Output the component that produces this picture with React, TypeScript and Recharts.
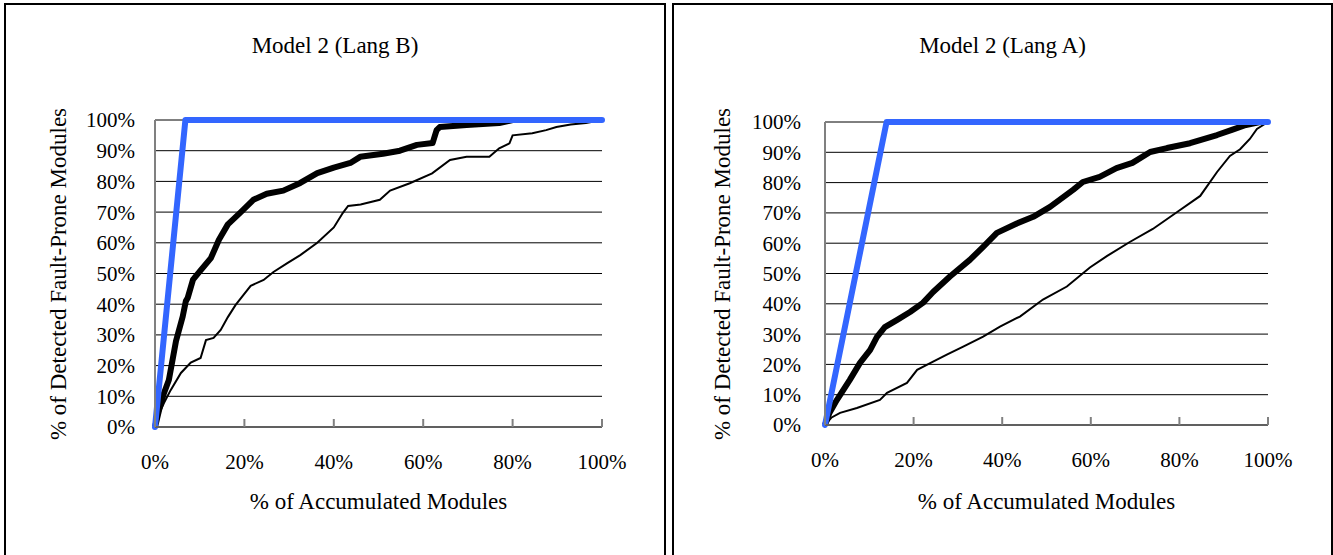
import { LineChart, Line, XAxis, YAxis, CartesianGrid } from "recharts";

const SERIF = '"Liberation Serif", "DejaVu Serif", "Times New Roman", Times, serif';

// tick labels
const xTicks = [0, 20, 40, 60, 80, 100];
const yTicks = [0, 10, 20, 30, 40, 50, 60, 70, 80, 90, 100];

// Lang B — optimal (blue)
const langBOptimalX = [0, 6.8, 100];
const langBOptimalY = [0, 100, 100];

// Lang B — model (thick black)
const langBModelX = [0, 1, 2, 3.1, 4.7, 6.2, 6.9, 7.3, 8.5, 10.2, 12.5, 14.3, 16.3, 19.2, 22, 25, 28.7, 32.5, 36.3, 40, 43.7, 45.9, 51, 54.8, 58.6, 62.1, 63, 63.7, 69.7, 77, 80, 100];
const langBModelY = [0, 6, 11, 15.3, 28, 36, 41, 42, 48, 51, 55, 61, 66, 70, 74, 76, 77, 79.5, 82.7, 84.5, 86, 88, 89, 90, 91.9, 92.5, 96.7, 97.7, 98.4, 99, 100, 100];

// Lang B — random (thin black)
const langBRandomX = [0, 0.8, 2, 3.5, 5.8, 8, 10.2, 11.4, 13.1, 14.7, 16.3, 18, 19.8, 21.4, 24.3, 26.5, 29.6, 32.5, 36.3, 40, 42, 43.2, 46, 50.3, 52.6, 57, 62, 66, 69.7, 74.8, 77, 79.3, 80, 84.4, 87.5, 89.8, 93, 96.4, 100];
const langBRandomY = [0, 4, 7.8, 12, 17.6, 21, 22.5, 28.3, 29, 31.6, 35.8, 39.7, 43, 46, 47.9, 50.5, 53.4, 56, 60, 65, 69.7, 72, 72.5, 74, 77, 79.4, 82.6, 87, 88, 88, 90.8, 92.4, 95, 95.7, 96.7, 97.7, 98.5, 99, 100];

// Lang A — optimal (blue)
const langAOptimalX = [0, 13.9, 100];
const langAOptimalY = [0, 100, 100];

// Lang A — model (thick black)
const langAModelX = [0, 1, 2.7, 5.6, 7.9, 10.2, 11.7, 13.5, 16.3, 19.2, 22.1, 24.4, 28.2, 32.7, 35.7, 38.8, 43.3, 47, 50.8, 56, 58.2, 62, 65.8, 69.4, 73.4, 77.2, 82.4, 88.5, 92, 95, 98.2, 100];
const langAModelY = [0, 4, 8.3, 14.9, 20.5, 24.8, 29, 32.3, 34.7, 37.3, 40.3, 43.9, 49, 54.5, 58.8, 63.4, 66.5, 68.7, 72, 77.6, 80.2, 81.9, 84.8, 86.5, 90.1, 91.4, 93, 95.7, 97.5, 99, 100, 100];

// Lang A — random (thin black)
const langARandomX = [0, 1.5, 3.4, 7.2, 12.4, 14, 18.5, 20.8, 24.4, 27.5, 31.2, 35.7, 39.5, 44, 49.2, 54.6, 59.8, 63.7, 68.8, 74, 79.5, 84.7, 88.5, 91.4, 93.7, 95.9, 97.5, 100];
const langARandomY = [0, 2.5, 4, 5.6, 8.3, 10.6, 13.9, 18.2, 20.9, 23.2, 25.9, 29.2, 32.5, 35.8, 41.4, 45.7, 52, 55.8, 60.4, 64.7, 70.3, 75.6, 83.5, 88.8, 91, 94.4, 97.7, 100];

const zip = (xs: number[], ys: number[]) => xs.map((x, i) => ({ x, y: ys[i] }));

function XTick(props: any) {
  const { x, y, payload } = props;
  return (
    <g>
      <line x1={x} x2={x} y1={y - 8} y2={y} stroke="#808080" strokeWidth={2} />
      <text x={x} y={y + 42} textAnchor="middle" style={{ fontFamily: SERIF }} fontSize={21} fill="#000">
        {payload.value}%
      </text>
    </g>
  );
}

interface PanelProps {
  left: number;
  width: number;
  title: string;
  optimal: { x: number; y: number }[];
  model: { x: number; y: number }[];
  random: { x: number; y: number }[];
  plotLeft: number;
  plotRight: number;
  plotTop: number;
  plotBottom: number;
  yLabelX: number;
  yTickGap: number;
}

function Panel(p: PanelProps) {
  const H = 550;
  const plotCenterX = (p.plotLeft + p.plotRight) / 2;
  const plotCenterY = (p.plotTop + p.plotBottom) / 2;
  return (
    <div
      style={{
        position: "absolute",
        left: p.left,
        top: 3,
        width: p.width,
        height: 560,
        border: "2px solid #000",
        background: "#fff",
        fontFamily: SERIF,
      }}
    >
      <div style={{ position: "absolute", left: 0, top: 29, width: "100%", textAlign: "center", fontSize: 23, lineHeight: "23px" }}>
        {p.title}
      </div>
      <div
        style={{
          position: "absolute",
          left: plotCenterX,
          top: 485,
          transform: "translateX(-50%)",
          whiteSpace: "nowrap",
          fontSize: 23,
          lineHeight: "23px",
        }}
      >
        % of Accumulated Modules
      </div>
      <div
        style={{
          position: "absolute",
          left: p.yLabelX,
          top: plotCenterY,
          transform: "translate(-50%, -50%) rotate(-90deg)",
          whiteSpace: "nowrap",
          fontSize: 23,
          lineHeight: "23px",
        }}
      >
        % of Detected Fault-Prone Modules
      </div>
      <div style={{ position: "absolute", left: 0, top: 0 }}>
        <LineChart
          width={p.width}
          height={H}
          margin={{ top: p.plotTop, right: p.width - p.plotRight, bottom: H - p.plotBottom - 30, left: 0 }}
          style={{ fontFamily: SERIF }}
        >
          <CartesianGrid vertical={false} stroke="#000" strokeWidth={1} />
          <XAxis
            type="number"
            dataKey="x"
            domain={[0, 100]}
            ticks={xTicks}
            height={30}
            tickSize={0}
            tickMargin={0}
            tickLine={false}
            tick={<XTick />}
            axisLine={{ stroke: "#606060", strokeWidth: 2 }}
            allowDuplicatedCategory={false}
          />
          <YAxis
            type="number"
            domain={[0, 100]}
            ticks={yTicks}
            width={p.plotLeft}
            tickSize={0}
            tickMargin={p.yTickGap}
            tickLine={false}
            tickFormatter={(v: number) => `${v}%`}
            tick={{ fontFamily: SERIF, fontSize: 21, fill: "#000", style: { fontFamily: SERIF } }}
            axisLine={{ stroke: "#808080", strokeWidth: 2 }}
          />
          <YAxis
            yAxisId="r"
            orientation="right"
            type="number"
            domain={[0, 100]}
            width={0}
            tick={false}
            tickLine={false}
            axisLine={{ stroke: "#808080", strokeWidth: 2 }}
          />
          <Line
            data={p.random}
            dataKey="y"
            stroke="#000"
            strokeWidth={2}
            dot={false}
            isAnimationActive={false}
          />
          <Line
            data={p.model}
            dataKey="y"
            stroke="#000"
            strokeWidth={6}
            strokeLinejoin="round"
            dot={false}
            isAnimationActive={false}
          />
          <Line
            data={p.optimal}
            dataKey="y"
            stroke="#3366FF"
            strokeWidth={6}
            strokeLinecap="round"
            strokeLinejoin="round"
            dot={false}
            isAnimationActive={false}
          />
        </LineChart>
      </div>
    </div>
  );
}

export default function App() {
  return (
    <div style={{ position: "absolute", left: 0, top: 0, width: 1333, height: 555, overflow: "hidden", background: "#fff" }}>
      <Panel
        left={4}
        width={658}
        title="Model 2 (Lang B)"
        optimal={zip(langBOptimalX, langBOptimalY)}
        model={zip(langBModelX, langBModelY)}
        random={zip(langBRandomX, langBRandomY)}
        plotLeft={149}
        plotRight={596}
        plotTop={115}
        plotBottom={422}
        yLabelX={52}
        yTickGap={20}
      />
      <Panel
        left={672}
        width={657}
        title="Model 2 (Lang A)"
        optimal={zip(langAOptimalX, langAOptimalY)}
        model={zip(langAModelX, langAModelY)}
        random={zip(langARandomX, langARandomY)}
        plotLeft={151}
        plotRight={594}
        plotTop={117}
        plotBottom={420}
        yLabelX={48}
        yTickGap={24}
      />
    </div>
  );
}
